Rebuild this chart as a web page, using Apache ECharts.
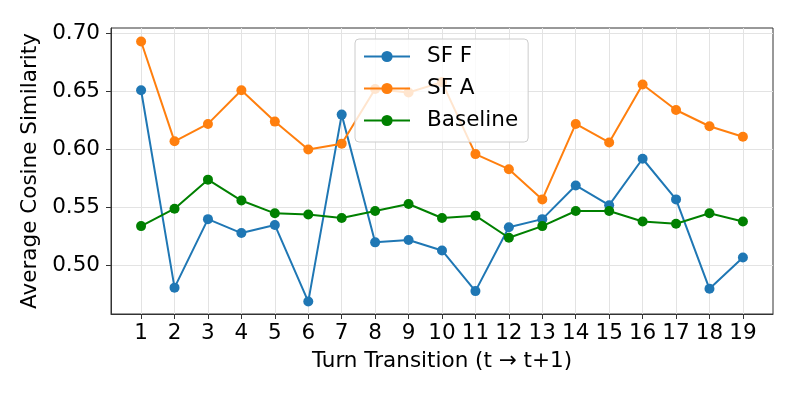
<!DOCTYPE html>
<html>
<head>
<meta charset="utf-8">
<script src="https://cdn.jsdelivr.net/npm/echarts@6/dist/echarts.min.js"></script>
<style>
  *{ margin:0; padding:0; }
  body{ background:#fff; }
  #chart{ width:797px; height:399px; }
</style>
</head>
<body>
<div id="chart"></div>
<script>
  // turn transitions 1..19
  const turns = [1,2,3,4,5,6,7,8,9,10,11,12,13,14,15,16,17,18,19];
  const sfF = [0.651,0.481,0.540,0.528,0.535,0.469,0.630,0.520,0.522,0.513,0.478,0.533,0.540,0.569,0.552,0.592,0.557,0.480,0.507];
  const sfA = [0.693,0.607,0.622,0.651,0.624,0.600,0.605,0.652,0.649,0.658,0.596,0.583,0.557,0.622,0.606,0.656,0.634,0.620,0.611];
  const baseline = [0.534,0.549,0.574,0.556,0.545,0.544,0.541,0.547,0.553,0.541,0.543,0.524,0.534,0.547,0.547,0.538,0.536,0.545,0.538];
  const yTicks = [0.50,0.55,0.60,0.65,0.70];

  const font = 'DejaVu Sans';
  const chart = echarts.init(document.getElementById('chart'));

  function mk(name, vals, color){
    return {
      name: name,
      type: 'line',
      data: turns.map((t,i)=>[t, vals[i]]),
      symbol: 'circle',
      symbolSize: 10,
      lineStyle: { color: color, width: 2 },
      itemStyle: { color: color },
      animation: false
    };
  }

  chart.setOption({
    animation: false,
    grid: {
      left: 111, right: 24, top: 28, bottom: 85,
      show: true, borderColor: '#333', borderWidth: 1
    },
    legend: {
      orient: 'vertical',
      left: 355, top: 39,
      padding: [6, 10, 10, 8],
      itemWidth: 46, itemHeight: 14,
      itemGap: 9,
      backgroundColor: 'rgba(255,255,255,0.8)',
      borderColor: '#cccccc', borderWidth: 1, borderRadius: 4,
      textStyle: { fontFamily: font, fontSize: 21.5, color: '#000', lineHeight: 23, padding: [0,0,0,12] },
      data: ['SF F','SF A','Baseline']
    },
    xAxis: {
      type: 'value',
      min: 0.1, max: 19.9,
      name: 'Turn Transition (t \u2192 t+1)',
      nameLocation: 'middle', nameGap: 36,
      nameTextStyle: { fontFamily: font, fontSize: 21.5, color: '#000' },
      axisLine: { lineStyle: { color: '#333', width: 1 } },
      axisTick: { show: true, length: 5, lineStyle: { color: '#333' }, customValues: turns },
      axisLabel: { fontFamily: font, fontSize: 21.5, color: '#000', margin: 8, customValues: turns },
      splitLine: { show: true, lineStyle: { color: '#e3e3e3', width: 1 } }
    },
    yAxis: {
      type: 'value',
      min: 0.4583, max: 0.7046,
      name: 'Average Cosine Similarity',
      nameLocation: 'middle', nameGap: 62,
      nameTextStyle: { fontFamily: font, fontSize: 21.5, color: '#000' },
      axisLine: { show: true, lineStyle: { color: '#333', width: 1 } },
      axisTick: { show: true, length: 5, lineStyle: { color: '#333' }, customValues: yTicks },
      axisLabel: { fontFamily: font, fontSize: 21.5, color: '#000', margin: 11, customValues: yTicks,
        formatter: v => v.toFixed(2) },
      splitLine: { show: true, lineStyle: { color: '#e3e3e3', width: 1 } }
    },
    series: [
      mk('SF F', sfF, '#1f77b4'),
      mk('SF A', sfA, '#ff7f0e'),
      mk('Baseline', baseline, '#008000')
    ]
  });
</script>
</body>
</html>
